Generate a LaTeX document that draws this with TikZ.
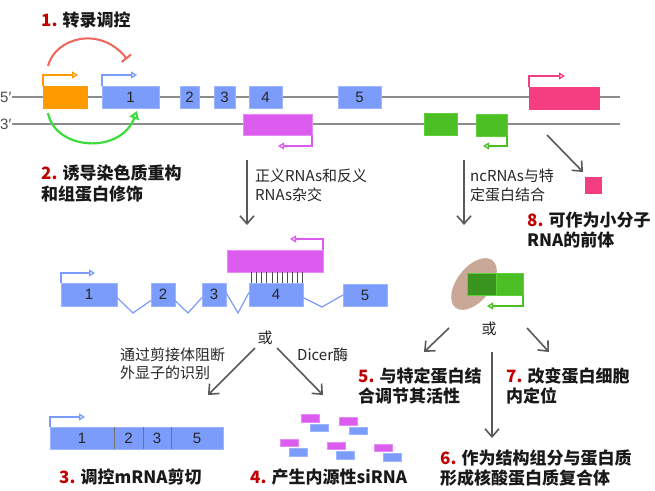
\documentclass[tikz,border=0pt]{standalone}
\usepackage{fontspec}
\setmainfont{Noto Sans CJK SC}
\newfontfamily\lat{Liberation Sans}
\usetikzlibrary{arrows.meta,shapes.geometric,calc}
\definecolor{exblue}{HTML}{7B9CFA}
\definecolor{exedge}{HTML}{9DB4FF}
\definecolor{orangeb}{HTML}{FF9A00}
\definecolor{magb}{HTML}{DD5CF0}
\definecolor{magedge}{HTML}{E68AF5}
\definecolor{greenb}{HTML}{4BBF24}
\definecolor{greenedge}{HTML}{5FD03A}
\definecolor{darkg}{HTML}{3A951E}
\definecolor{pinkb}{HTML}{F53D82}
\definecolor{redarc}{HTML}{F0645A}
\definecolor{greenarc}{HTML}{3BDD3B}
\definecolor{dnagray}{HTML}{8C8C8C}
\definecolor{arrgray}{HTML}{595959}
\definecolor{numred}{RGB}{192,0,0}
\definecolor{brownell}{HTML}{C9A898}
\begin{document}
\begin{tikzpicture}[x=1pt,y=-1pt,
  box/.style={inner sep=0pt, outer sep=0pt, line width=0.7pt, font=\lat\fontsize{15}{15}\selectfont, text=black!85},
  exon/.style={box, fill=exblue, draw=exedge},
  magbox/.style={box, fill=magb, draw=magedge},
  grbox/.style={box, fill=greenb, draw=greenedge},
  dna/.style={draw=dnagray, line width=1.4pt},
  prom/.style={line width=1.3pt, -{Triangle[open,length=6pt,width=7pt]}},
  garrow/.style={draw=arrgray, line width=1.6pt, -{Straight Barb[length=8pt,width=14pt]}},
  intron/.style={draw=exblue, line width=1.2pt},
  lbl/.style={font=\fontsize{17}{20.5}\selectfont\bfseries, align=left, inner sep=0pt, anchor=west, text=black!90},
  note/.style={font=\fontsize{15}{18.5}\selectfont, align=left, inner sep=0pt, anchor=west, text=black!85},
  sirm/.style={box, fill=magb, draw=magedge, minimum width=18pt, minimum height=7.5pt},
  sirb/.style={box, fill=exblue, draw=exedge, minimum width=18pt, minimum height=7.5pt},
  hatch/.style={draw=black!70, line width=0.8pt}
]
\useasboundingbox[fill=white] (0,0) rectangle (655,490);

% ---------- top DNA ----------
\node[inner sep=0pt, anchor=west, font=\lat\fontsize{15}{15}\selectfont, text=black!70] (l5) at (0,97) {5′};
\node[inner sep=0pt, anchor=west, font=\lat\fontsize{15}{15}\selectfont, text=black!70] (l3) at (0,124) {3′};
\coordinate (d5e) at (620,97);
\coordinate (d3e) at (620,124);
\draw[dna] (l5.east) -- (d5e);
\draw[dna] (l3.east) -- (d3e);

\node[box, fill=orangeb, draw=orangeb, minimum width=44pt, minimum height=22pt] (orb) at (65,97) {};
\node[exon, minimum width=57pt, minimum height=22pt] (e1) at (130.5,97) {1};
\node[exon, minimum width=19pt, minimum height=22pt] (e2) at (189.5,97) {2};
\node[exon, minimum width=21pt, minimum height=22pt] (e3) at (224.5,97) {3};
\node[exon, minimum width=33pt, minimum height=22pt] (e4) at (265.5,97) {4};
\node[exon, minimum width=43pt, minimum height=22pt] (e5) at (359.5,97) {5};
\node[magbox, minimum width=69pt, minimum height=21pt] (mt) at (277.5,124.5) {};
\node[grbox, minimum width=33pt, minimum height=22pt] (g1) at (440.5,124) {};
\node[grbox, minimum width=31pt, minimum height=22pt] (g2) at (491.5,125) {};
\node[box, fill=pinkb, draw=pinkb, minimum width=70pt, minimum height=22pt] (pk) at (564,98) {};
\node[box, fill=pinkb, draw=pinkb, minimum width=16pt, minimum height=16pt] (pks) at (593,185) {};

\draw[prom, draw=orangeb] (orb.north west) -- ++(0,-11) -- ++(35,0);
\draw[prom, draw=exblue] (e1.north west) -- ++(0,-11) -- ++(35,0);
\draw[prom, draw=magb] (mt.south east) -- ++(0,11) -- ++(-34,0);
\draw[prom, draw=greenb] (g2.south east) -- ++(0,10) -- ++(-24,0);
\draw[prom, draw=pinkb] (pk.north west) -- ++(0,-11) -- ++(36,0);

% arcs
\coordinate (ra) at (48,66);
\coordinate (rb) at (127,59);
\draw[draw=redarc, line width=2pt, -{Bar[width=12pt,line width=2pt]}] (ra) .. controls (55,38) and (100,25) .. (rb);
\coordinate (ga) at (48,113);
\coordinate (gb) at (137,111);
\draw[draw=greenarc, line width=2.2pt, -{Triangle[open,length=8pt,width=10pt,line width=2pt]}] (ga) .. controls (55,150) and (120,155) .. (gb);

% labels top
\node[lbl] (t1) at (41,20) {\textcolor{numred}{1.} 转录调控};
\node[lbl] (t2) at (41,183.5) {\textcolor{numred}{2.} 诱导染色质重构\\和组蛋白修饰};
\node[note] (n1) at (255,185.5) {正义RNAs和反义\\RNAs杂交};
\node[note] (n2) at (470,185.5) {ncRNAs与特\\定蛋白结合};
\node[lbl] (t8) at (527,230) {\textcolor{numred}{8.} 可作为小分子\\RNA的前体};

\coordinate (a1s) at (247,160); \coordinate (a1e) at (247,225);
\coordinate (a2s) at (464,160); \coordinate (a2e) at (464,225);
\coordinate (a3s) at (547,135); \coordinate (a3e) at (583,172);
\draw[garrow] (a1s) -- (a1e);
\draw[garrow] (a2s) -- (a2e);
\draw[garrow] (a3s) -- (a3e);

% ---------- middle left ----------
\node[magbox, minimum width=96pt, minimum height=22pt] (mm) at (275,261) {};
\node[exon, minimum width=56pt, minimum height=23pt] (b1) at (89,294.5) {1};
\node[exon, minimum width=24pt, minimum height=23pt] (b2) at (163,294.5) {2};
\node[exon, minimum width=24pt, minimum height=23pt] (b3) at (214,294.5) {3};
\node[exon, minimum width=54pt, minimum height=23pt] (b4) at (276,294.5) {4};
\node[exon, minimum width=44pt, minimum height=22pt] (b5) at (365,295) {5};
\draw[prom, draw=magb] (mm.north east) -- ++(0,-11) -- ++(-33,0);
\draw[prom, draw=exblue] (b1.north west) -- ++(0,-10) -- ++(34,0);
\foreach \i in {0,...,10} { \draw[hatch] (251.5+\i*5.1,272) -- (251.5+\i*5.1,283); }

\coordinate (v1) at (133,313);
\coordinate (v2) at (188,313);
\coordinate (v3) at (238,313);
\coordinate (v4) at (322,307);
\draw[intron] ($(b1.east)+(0,3)$) -- (v1) -- ($(b2.west)+(0,6)$);
\draw[intron] ($(b2.east)+(0,6)$) -- (v2) -- ($(b3.west)+(0,3)$);
\draw[intron] ($(b3.east)+(0,-2)$) -- (v3) -- ($(b4.west)+(0,-2)$);
\draw[intron] ($(b4.east)+(0,3)$) -- (v4) -- (b5.west);

\node[font=\fontsize{15}{15}\selectfont, inner sep=0pt, text=black!85] (or1) at (265,338) {或};
\coordinate (a4s) at (255,348); \coordinate (a4e) at (208,395);
\coordinate (a5s) at (277,348); \coordinate (a5e) at (323,395);
\draw[garrow] (a4s) -- (a4e);
\draw[garrow] (a5s) -- (a5e);
\node[note] (n3) at (120,364) {通过剪接体阻断\\外显子的识别};
\node[note] (n4) at (297,355) {Dicer酶};

% bottom left mRNA
\node[exon, minimum width=64pt, minimum height=22pt] (m1) at (82,438) {1};
\node[exon, minimum width=29pt, minimum height=22pt] (m2) at (128.5,438) {2};
\node[exon, minimum width=28pt, minimum height=22pt] (m3) at (157,438) {3};
\node[exon, minimum width=52pt, minimum height=22pt] (m5) at (197,438) {5};
\draw[draw=black!55, line width=0.8pt] (m1.north east) -- (m1.south east);
\draw[draw=black!55, line width=0.8pt] (m2.north east) -- (m2.south east);
\draw[draw=black!55, line width=0.8pt] (m3.north east) -- (m3.south east);
\draw[prom, draw=exblue] (m1.north west) -- ++(0,-10) -- ++(35,0);
\node[lbl] (t3) at (59,477) {\textcolor{numred}{3.} 调控mRNA剪切};

% siRNA
\foreach \x/\y [count=\i] in {310/418.5, 348.5/421.5, 289/443, 336/446, 383/448} {
  \node[sirm] (sm\i) at (\x,\y) {};
  \node[sirb] (sb\i) at (\x+9.5,\y+9.5) {};
}
\node[lbl] (t4) at (250,477) {\textcolor{numred}{4.} 产生内源性siRNA};

% ---------- middle right ----------
\node[ellipse, fill=brownell, minimum width=60pt, minimum height=34pt, inner sep=0pt, rotate=52] (ell) at (474,284) {};
\node[box, fill=darkg, draw=greenedge, minimum width=29pt, minimum height=22pt] (pl) at (481.5,284) {};
\node[grbox, minimum width=27pt, minimum height=22pt] (pr) at (509.5,284) {};
\draw[prom, draw=greenb] (pr.south east) -- ++(0,11) -- ++(-36,0);

\node[font=\fontsize{15}{15}\selectfont, inner sep=0pt, text=black!85] (or2) at (489,329) {或};
\coordinate (a6s) at (449,328); \coordinate (a6e) at (424,352);
\coordinate (a7s) at (527,328); \coordinate (a7e) at (549,352);
\coordinate (a8s) at (492,352); \coordinate (a8e) at (492,438);
\draw[garrow] (a6s) -- (a6e);
\draw[garrow] (a7s) -- (a7e);
\draw[garrow] (a8s) -- (a8e);

\node[lbl] (t5) at (358,386) {\textcolor{numred}{5.} 与特定蛋白结\\合调节其活性};
\node[lbl] (t7) at (506,386) {\textcolor{numred}{7.} 改变蛋白细胞\\内定位};
\node[lbl] (t6) at (440,468) {\textcolor{numred}{6.} 作为结构组分与蛋白质\\形成核酸蛋白质复合体};
\end{tikzpicture}
\end{document}
